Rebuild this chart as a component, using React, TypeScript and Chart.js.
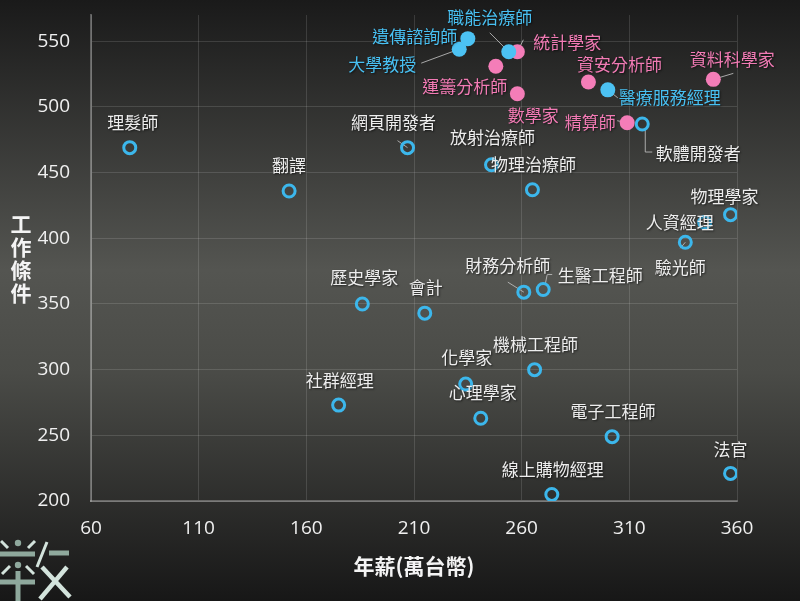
import React, { useEffect, useRef } from "react";
import { Chart, registerables } from "chart.js";

Chart.register(...registerables);

// Series 1: hollow blue circles (white labels)
const hollowNames = ["理髮師", "翻譯", "網頁開發者", "放射治療師", "物理治療師", "軟體開發者", "物理學家", "人資經理", "驗光師", "歷史學家", "會計", "財務分析師", "生醫工程師", "機械工程師", "化學家", "心理學家", "社群經理", "電子工程師", "線上購物經理", "法官"];
const hollowSalary = [78, 152, 207, 246, 265, 316, 357, 345, 336, 186, 215, 261, 270, 266, 234, 241, 175, 302, 274, 357];
const hollowScore = [469, 436, 469, 456, 437, 487, 418, 412, 397, 350, 343, 359, 361, 300, 289, 263, 273, 249, 205, 221];

// Series 2: filled blue (health / academia)
const blueNames = ["職能治療師", "遺傳諮詢師", "大學教授", "醫療服務經理"];
const blueSalary = [254, 235, 231, 300];
const blueScore = [542, 552, 544, 513];

// Series 3: filled pink (math / data)
const pinkNames = ["統計學家", "運籌分析師", "數學家", "資安分析師", "資料科學家", "精算師"];
const pinkSalary = [258, 248, 258, 291, 349, 309];
const pinkScore = [542, 531, 510, 519, 521, 488];

const xTitle = "年薪(萬台幣)";
const yTitle = "工作條件";

// label placement (pixel offsets from the point) - layout only
const labelOffsets: Record<string, [number, number]> = {
  理髮師: [3, -25], 翻譯: [0, -25], 網頁開發者: [-14, -25], 放射治療師: [1, -27], 物理治療師: [1, -25],
  軟體開發者: [56, 30], 物理學家: [-6, -18], 人資經理: [-25, 0], 驗光師: [-5, 25], 歷史學家: [2, -26],
  會計: [1, -26], 財務分析師: [-16, -27], 生醫工程師: [57, -14], 機械工程師: [1, -25], 化學家: [1, -27],
  心理學家: [2, -26], 社群經理: [1, -25], 電子工程師: [1, -25], 線上購物經理: [1, -25], 法官: [0, -24],
  職能治療師: [-19, -34], 遺傳諮詢師: [-53, -2], 大學教授: [-77, 15], 醫療服務經理: [62, 8],
  統計學家: [50, -9], 運籌分析師: [-31, 20], 數學家: [16, 22], 資安分析師: [31, -17], 資料科學家: [19, -20], 精算師: [-37, 0],
};
const leaders: Record<string, [number, number][]> = {
  網頁開發者: [[0, 0], [-10, -7]],
  軟體開發者: [[3, 6], [3, 28], [10, 28]],
  財務分析師: [[0, 0], [-16, -10]],
  生醫工程師: [[2, -5], [4, -15], [9, -15]],
  驗光師: [[0, 0], [-5, 6]],
  職能治療師: [[0, 0], [-19, -19]],
  大學教授: [[0, 0], [-38, 14]],
  醫療服務經理: [[0, 0], [10, 8]],
  統計學家: [[0, 0], [6, -12]],
  資料科學家: [[0, 0], [20, -6]],
  精算師: [[0, 0], [-10, -2]],
};

const BLUE = "#3cb7ec";
const PINK = "#f27bb5";
const LABEL_FONT = "17px 'Noto Sans CJK TC', 'Noto Sans', sans-serif";

const toPoints = (xs: number[], ys: number[]) => xs.map((x, i) => ({ x, y: ys[i] }));

const bgPlugin = {
  id: "bg",
  beforeDraw(chart: any) {
    const { ctx, width, height } = chart;
    const g = ctx.createLinearGradient(0, 0, 0, height);
    g.addColorStop(0, "#1a1a1a");
    g.addColorStop(0.45, "#545551");
    g.addColorStop(0.62, "#4a4b47");
    g.addColorStop(1, "#171717");
    ctx.save();
    ctx.fillStyle = g;
    ctx.fillRect(0, 0, width, height);
    ctx.restore();
  },
};

const leaderPlugin = {
  id: "leaders",
  beforeDatasetsDraw(chart: any) {
    const { ctx } = chart;
    ctx.save();
    ctx.strokeStyle = "rgba(190,190,190,0.85)";
    ctx.lineWidth = 1;
    chart.data.datasets.forEach((ds: any, i: number) => {
      const meta = chart.getDatasetMeta(i);
      meta.data.forEach((el: any, j: number) => {
        const pts = leaders[ds.names[j]];
        if (!pts) return;
        ctx.beginPath();
        pts.forEach(([dx, dy], k) => {
          if (k === 0) ctx.moveTo(el.x + dx, el.y + dy);
          else ctx.lineTo(el.x + dx, el.y + dy);
        });
        ctx.stroke();
      });
    });
    ctx.restore();
  },
};

const labelPlugin = {
  id: "labels",
  afterDatasetsDraw(chart: any) {
    const { ctx } = chart;
    ctx.save();
    ctx.font = LABEL_FONT;
    ctx.textAlign = "center";
    ctx.textBaseline = "middle";
    ctx.shadowColor = "rgba(0,0,0,0.6)";
    ctx.shadowBlur = 2;
    ctx.shadowOffsetX = 1;
    ctx.shadowOffsetY = 1;
    chart.data.datasets.forEach((ds: any, i: number) => {
      const meta = chart.getDatasetMeta(i);
      ctx.fillStyle = ds.labelColor;
      meta.data.forEach((el: any, j: number) => {
        const name = ds.names[j];
        const off = labelOffsets[name] || [0, -25];
        ctx.fillText(name, el.x + off[0], el.y + off[1]);
      });
    });
    ctx.restore();
  },
};

const titlePlugin = {
  id: "titles",
  afterDraw(chart: any) {
    const { ctx, chartArea } = chart;
    ctx.save();
    ctx.fillStyle = "#f4f4f4";
    ctx.font = "bold 21px 'Noto Sans CJK TC', sans-serif";
    ctx.textAlign = "center";
    ctx.textBaseline = "middle";
    ctx.fillText(xTitle, (chartArea.left + chartArea.right) / 2, 566);
    const chars = Array.from(yTitle);
    chars.forEach((c, k) => ctx.fillText(c, 21, 224 + k * 23));
    // logo (bottom-left)
    ctx.lineCap = "butt";
    const line = (x1: number, y1: number, x2: number, y2: number, w: number, col?: string) => {
      ctx.strokeStyle = col || "#d3e3dc";
      ctx.lineWidth = w;
      ctx.beginPath();
      ctx.moveTo(x1, y1);
      ctx.lineTo(x2, y2);
      ctx.stroke();
    };
    const dot = (x: number, y: number) => {
      ctx.fillStyle = "#8fa99d";
      ctx.beginPath();
      ctx.arc(x, y, 3.2, 0, Math.PI * 2);
      ctx.fill();
    };
    line(0, 554, 35, 554, 5, "#8fa99d");
    line(49, 553, 69, 553, 5, "#8fa99d");
    dot(18, 543);
    dot(18, 565);
    line(1, 541, 8, 548, 3);
    line(28, 548, 35, 541, 3);
    line(37, 567, 47, 542, 3);
    line(2, 574, 10, 566, 3);
    line(26, 566, 34, 574, 3);
    line(18, 571, 18, 601, 5, "#8fa99d");
    line(0, 582, 35, 582, 5, "#8fa99d");
    line(42, 567, 70, 597, 4.5);
    line(67, 567, 40, 599, 4.5);
    ctx.restore();
  },
};

export default function App() {
  const ref = useRef<HTMLCanvasElement | null>(null);
  useEffect(() => {
    if (!ref.current) return;
    const tickFont = { family: "'Open Sans', 'Noto Sans', sans-serif", size: 19 };
    const chart = new Chart(ref.current, {
      type: "scatter",
      data: {
        datasets: [
          {
            data: toPoints(hollowSalary, hollowScore),
            names: hollowNames,
            labelColor: "#ededed",
            pointRadius: 6,
            pointBorderWidth: 3,
            pointBorderColor: BLUE,
            pointBackgroundColor: "rgba(0,0,0,0)",
          } as any,
          {
            data: toPoints(blueSalary, blueScore),
            names: blueNames,
            labelColor: "#48c0f2",
            pointRadius: 7.5,
            pointBorderWidth: 0,
            pointBackgroundColor: "#4cc2f3",
          } as any,
          {
            data: toPoints(pinkSalary, pinkScore),
            names: pinkNames,
            labelColor: PINK,
            pointRadius: 7.5,
            pointBorderWidth: 0,
            pointBackgroundColor: "#f47db8",
          } as any,
        ],
      },
      options: {
        responsive: false,
        animation: false,
        devicePixelRatio: 1,
        layout: { padding: { top: 15, right: 63, left: 0, bottom: 0 } },
        plugins: { legend: { display: false }, tooltip: { enabled: false } },
        scales: {
          x: {
            type: "linear",
            min: 60,
            max: 360,
            ticks: { stepSize: 50, color: "#f0f0f0", font: tickFont, padding: 16 },
            grid: { color: "rgba(255,255,255,0.13)", drawTicks: false },
            border: { color: "rgba(255,255,255,0.28)", width: 2 },
            afterFit: (s: any) => {
              s.height = 100;
              s.paddingLeft = 0; s.paddingRight = 0; s.paddingTop = 0; s.paddingBottom = 0;
            },
          },
          y: {
            type: "linear",
            min: 200,
            max: 570,
            ticks: { stepSize: 50, color: "#f0f0f0", font: tickFont, padding: 21 },
            grid: { color: "rgba(255,255,255,0.13)", drawTicks: false },
            border: { color: "rgba(255,255,255,0.28)", width: 2 },
            afterBuildTicks: (s: any) => { s.ticks = s.ticks.filter((t: any) => t.value % 50 === 0); },
            afterFit: (s: any) => {
              s.width = 91;
              s.paddingLeft = 0; s.paddingRight = 0; s.paddingTop = 0; s.paddingBottom = 0;
            },
          },
        },
      } as any,
      plugins: [bgPlugin, leaderPlugin, labelPlugin, titlePlugin],
    });
    return () => chart.destroy();
  }, []);
  return (
    <div style={{ position: "fixed", left: 0, top: 0, width: 800, height: 601 }}>
      <canvas ref={ref} width={800} height={601} style={{ width: 800, height: 601, display: "block" }} />
    </div>
  );
}
